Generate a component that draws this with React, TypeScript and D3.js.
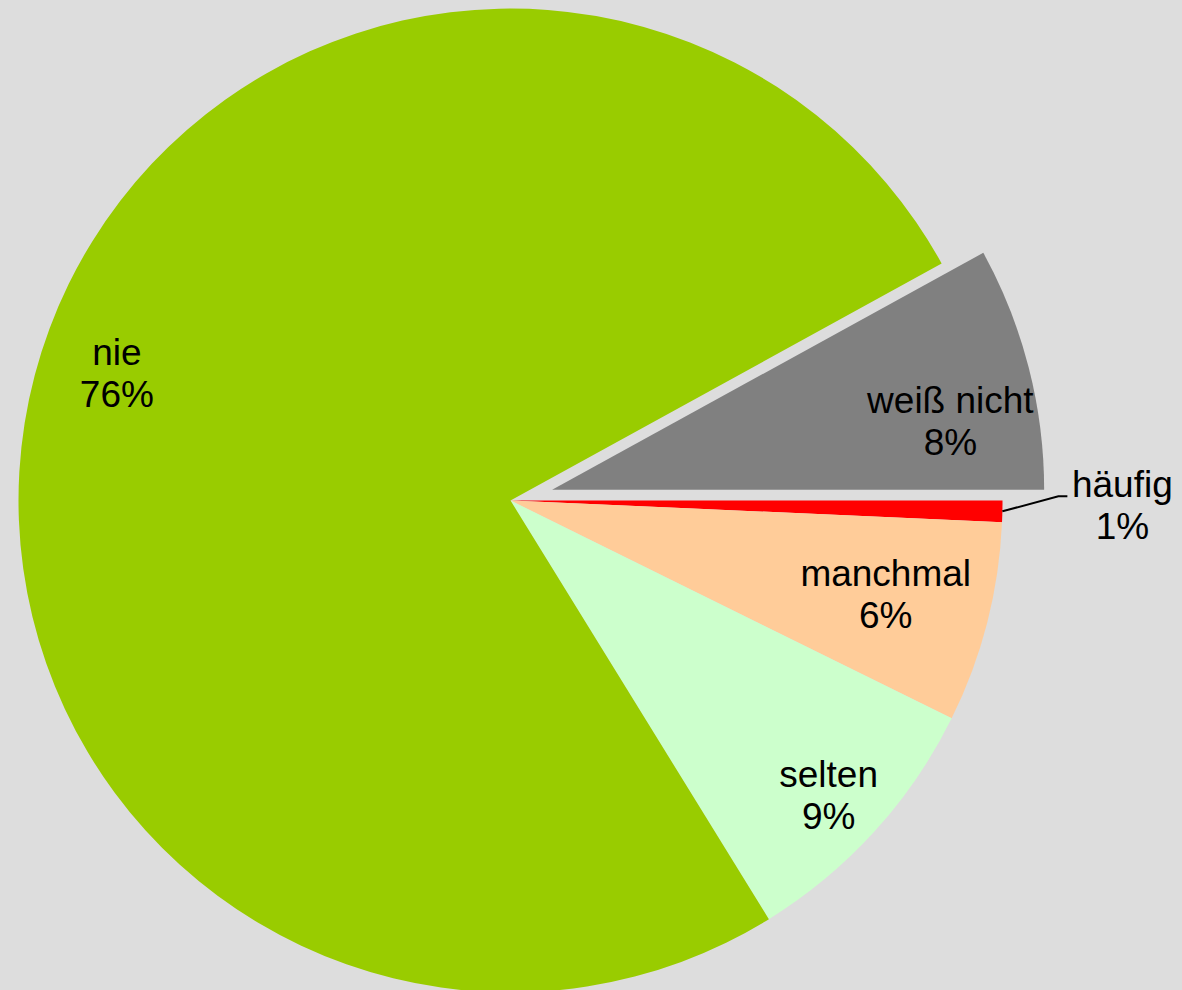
import React from 'react';
import * as d3 from 'd3';

// Slice data, in drawing order (clockwise from 3 o'clock)
const categories = ['häufig', 'manchmal', 'selten', 'nie', 'weiß nicht'];
const shares = [0.7, 6.6, 8.9, 75.8, 8.0];
const percentLabels = ['1%', '6%', '9%', '76%', '8%'];
const colors = ['#FF0000', '#FFCC99', '#CCFFCC', '#99CC00', '#808080'];
const exploded = ['weiß nicht'];

const width = 1182;
const height = 990;
const cx = 510.5;
const cy = 500.5;
const radius = 492;
const explodeOffset = 43;
const fontSize = 37;
const lineGap = 42;

// hand tuned label nudges (px) from the 0.8r centroid
const labelNudge: Record<string, [number, number]> = {
  'manchmal': [-6, -4],
  'selten': [27, 30],
  'nie': [-13, -27],
  'weiß nicht': [17, 29],
};

export default function App() {
  const data = categories.map((c, i) => ({
    name: c,
    value: shares[i],
    label: percentLabels[i],
    color: colors[i],
  }));

  const pie = d3.pie<any>()
    .value(d => d.value)
    .sort(null)
    .startAngle(Math.PI / 2)
    .endAngle(Math.PI / 2 + 2 * Math.PI);

  const arcs = pie(data);
  const arc = d3.arc<any>().innerRadius(0).outerRadius(radius);
  const labelArc = d3.arc<any>().innerRadius(radius * 0.8).outerRadius(radius * 0.8);
  const edgeArc = d3.arc<any>().innerRadius(radius).outerRadius(radius);

  const offsetOf = (a: any): [number, number] => {
    if (!exploded.includes(a.data.name)) return [0, 0];
    const mid = (a.startAngle + a.endAngle) / 2;
    return [explodeOffset * Math.sin(mid), -explodeOffset * Math.cos(mid)];
  };

  const textStyle = { fontFamily: '"Liberation Sans", Arial, sans-serif', fontSize, fill: '#000' };

  return (
    <svg width={width} height={height} style={{ position: 'absolute', left: 0, top: 0, background: '#DDDDDD' }}>
      <rect width={width} height={height} fill="#DDDDDD" />
      <g transform={`translate(${cx},${cy})`}>
        {arcs.map(a => {
          const [ox, oy] = offsetOf(a);
          return (
            <path key={a.data.name} d={arc(a) || ''} fill={a.data.color}
              transform={`translate(${ox},${oy})`} />
          );
        })}
        {arcs.map(a => {
          const [ox, oy] = offsetOf(a);
          if (a.data.name === 'häufig') {
            // outside label with leader line
            const [sx, sy] = edgeArc.centroid(a);
            const ex = sx + 56, ey = sy - 15;
            const tx = ex + 9;
            return (
              <g key={a.data.name + '-lbl'}>
                <polyline points={`${sx},${sy} ${ex},${ey} ${tx},${ey}`} fill="none" stroke="#000" strokeWidth={2} />
                <text x={tx + 55} y={ey + 1} textAnchor="middle" style={textStyle}>
                  <tspan x={tx + 55}>{a.data.name}</tspan>
                  <tspan x={tx + 55} dy={lineGap}>{a.data.label}</tspan>
                </text>
              </g>
            );
          }
          const [lx, ly] = labelArc.centroid(a);
          const [nx, ny] = labelNudge[a.data.name] || [0, 0];
          const x = lx + ox + nx;
          const y = ly + oy + ny - 8;
          return (
            <text key={a.data.name + '-lbl'} x={x} y={y} textAnchor="middle" style={textStyle}>
              <tspan x={x}>{a.data.name}</tspan>
              <tspan x={x} dy={lineGap}>{a.data.label}</tspan>
            </text>
          );
        })}
      </g>
    </svg>
  );
}
